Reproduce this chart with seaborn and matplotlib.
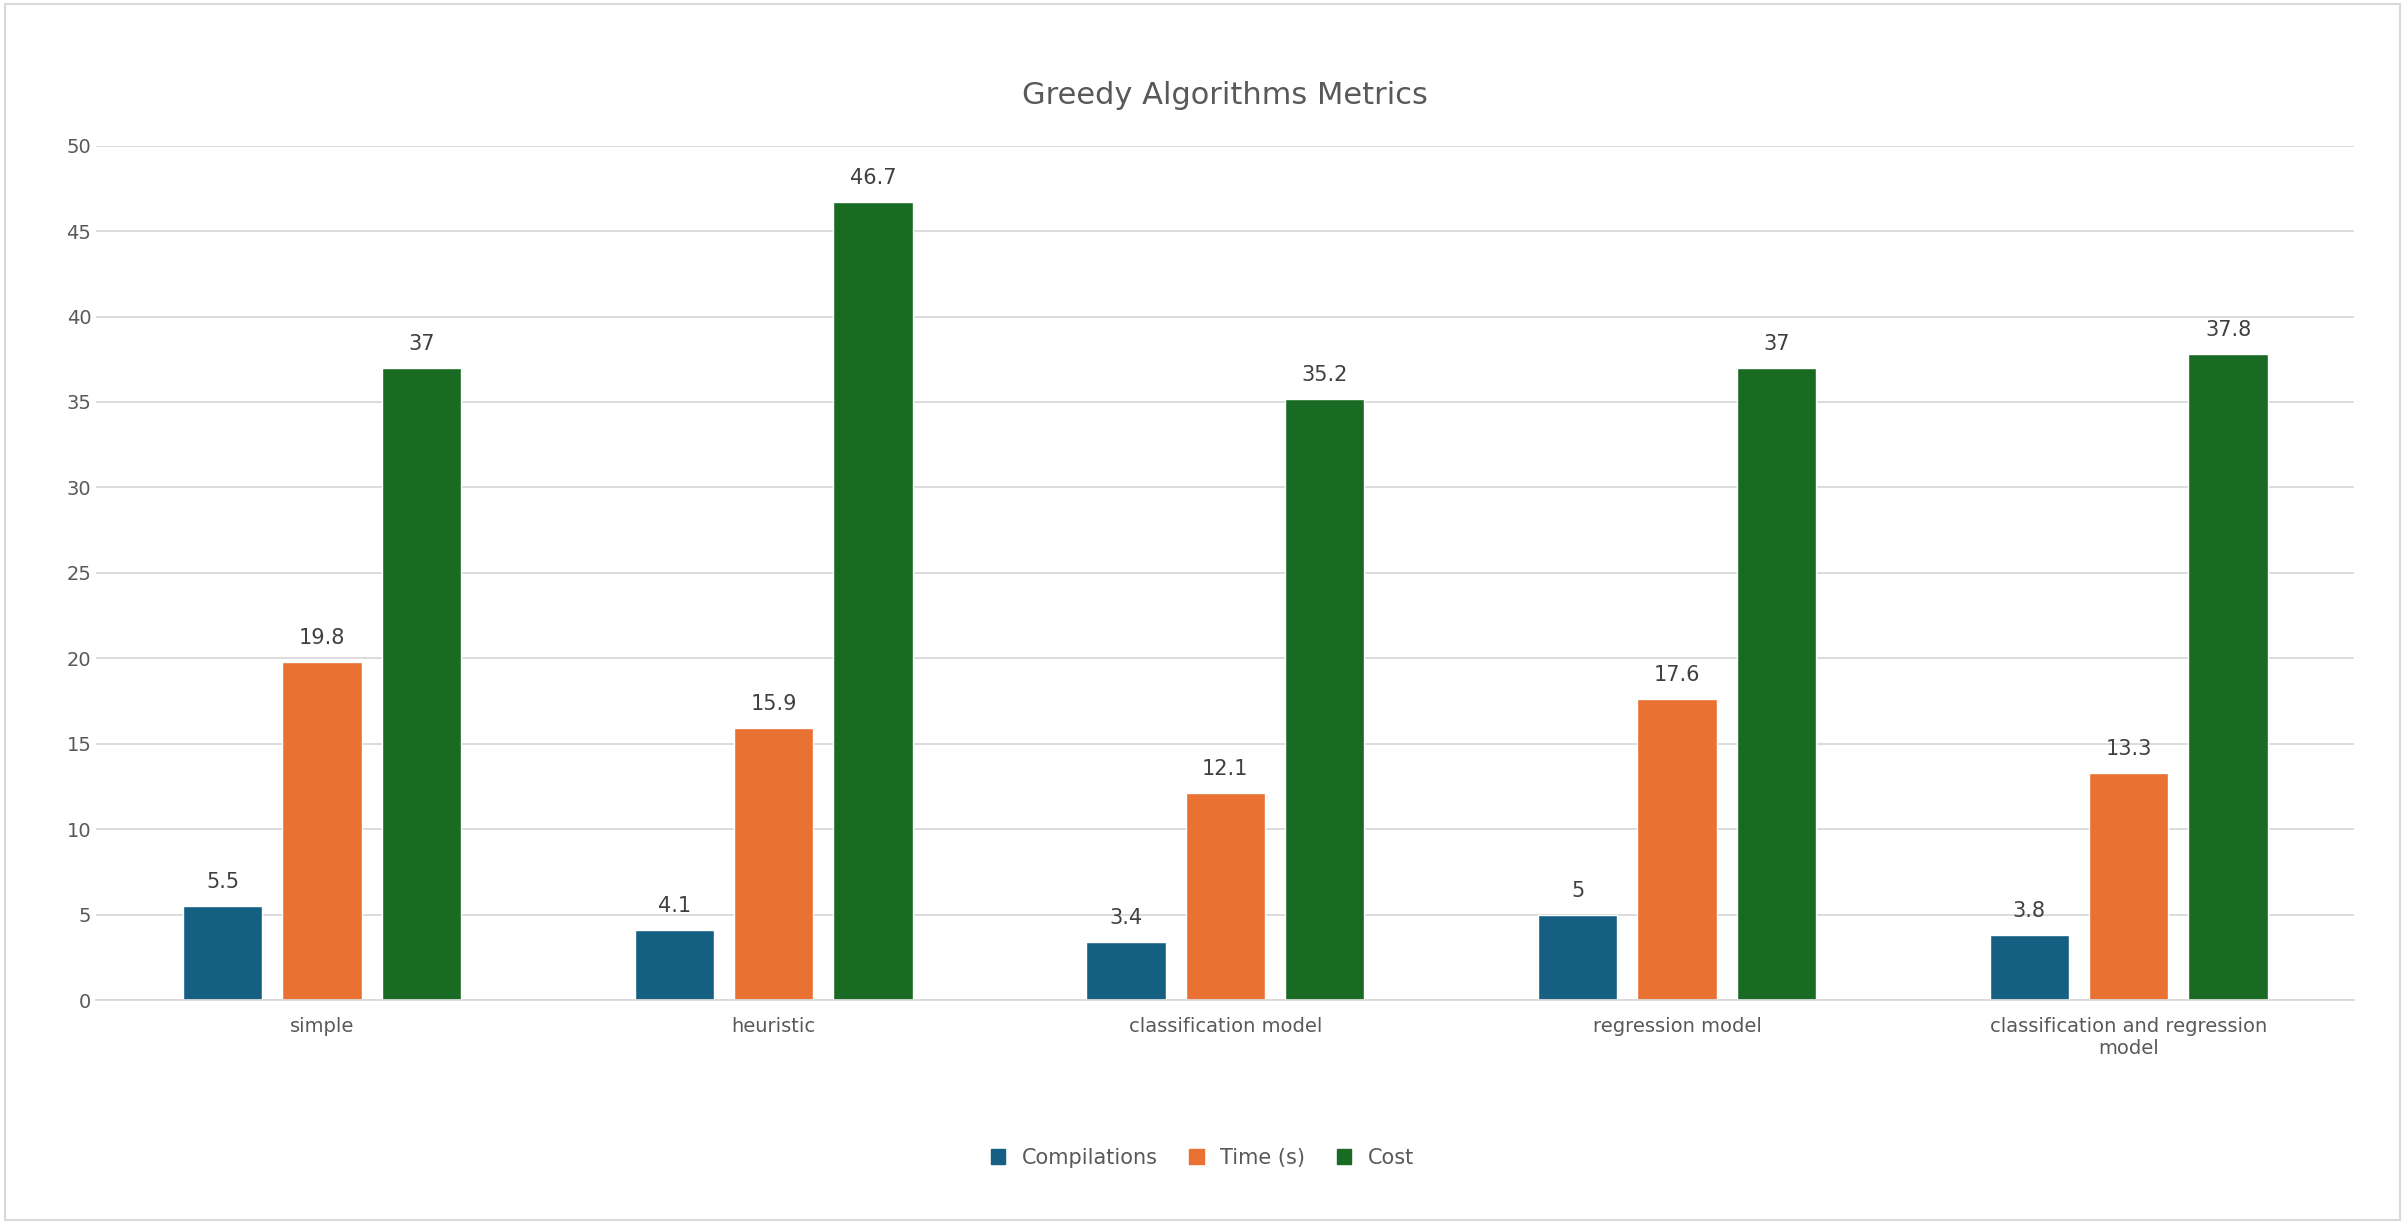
import matplotlib
matplotlib.use("Agg")
import matplotlib.pyplot as plt
import seaborn as sns
import pandas as pd
from matplotlib.patches import Rectangle

categories = ["simple", "heuristic", "classification model", "regression model",
              "classification and regression\nmodel"]
compilations = [5.5, 4.1, 3.4, 5, 3.8]
time_s = [19.8, 15.9, 12.1, 17.6, 13.3]
cost = [37, 46.7, 35.2, 37, 37.8]
series = ["Compilations", "Time (s)", "Cost"]
colors = ["#156082", "#E97132", "#196B24"]

rows = []
for name, vals in zip(series, [compilations, time_s, cost]):
    for c, v in zip(categories, vals):
        rows.append({"category": c, "series": name, "value": v})
df = pd.DataFrame(rows)

sns.set_theme(style="white")
plt.rcParams['font.family'] = ['DejaVu Sans']
fig = plt.figure(figsize=(24.05, 12.24), dpi=100)
ax = fig.add_axes([0.040, 0.183, 0.939, 0.698])
sns.barplot(data=df, x="category", y="value", hue="series", palette=colors,
            width=0.66, gap=0.2, ax=ax, saturation=1, order=categories, hue_order=series)
for cont in ax.containers:
    ax.bar_label(cont, fmt="%g", padding=10, fontsize=15, color="#404040")
ax.set_ylim(0, 50)
ax.set_yticks(range(0, 51, 5))
ax.yaxis.grid(True, color="#d9d9d9", linewidth=1.3)
ax.set_axisbelow(True)
for s in ["top", "right", "left"]:
    ax.spines[s].set_visible(False)
ax.spines["bottom"].set_color("#d9d9d9")
ax.spines["bottom"].set_linewidth(1.3)
ax.tick_params(axis="both", labelsize=14, colors="#595959", length=0)
ax.tick_params(axis="x", pad=12)
ax.set_xlabel("")
ax.set_ylabel("")
ax.set_xlim(-0.5, 4.5)
ax.set_title("Greedy Algorithms Metrics", fontsize=22, color="#595959", pad=30)
ax.legend_.remove()
handles = [Rectangle((0, 0), 1, 1, color=c) for c in colors]
fig.legend(handles, series, loc="center", bbox_to_anchor=(0.5, 0.054), ncol=3,
           frameon=False, fontsize=15, handlelength=0.7, handleheight=0.7,
           columnspacing=1.5, labelcolor="#595959")
fig.add_artist(Rectangle((0.002, 0.003), 0.996, 0.994, transform=fig.transFigure,
                         fill=False, edgecolor="#d9d9d9", linewidth=1.5))
fig.savefig("out.png", dpi=100, facecolor="white")
